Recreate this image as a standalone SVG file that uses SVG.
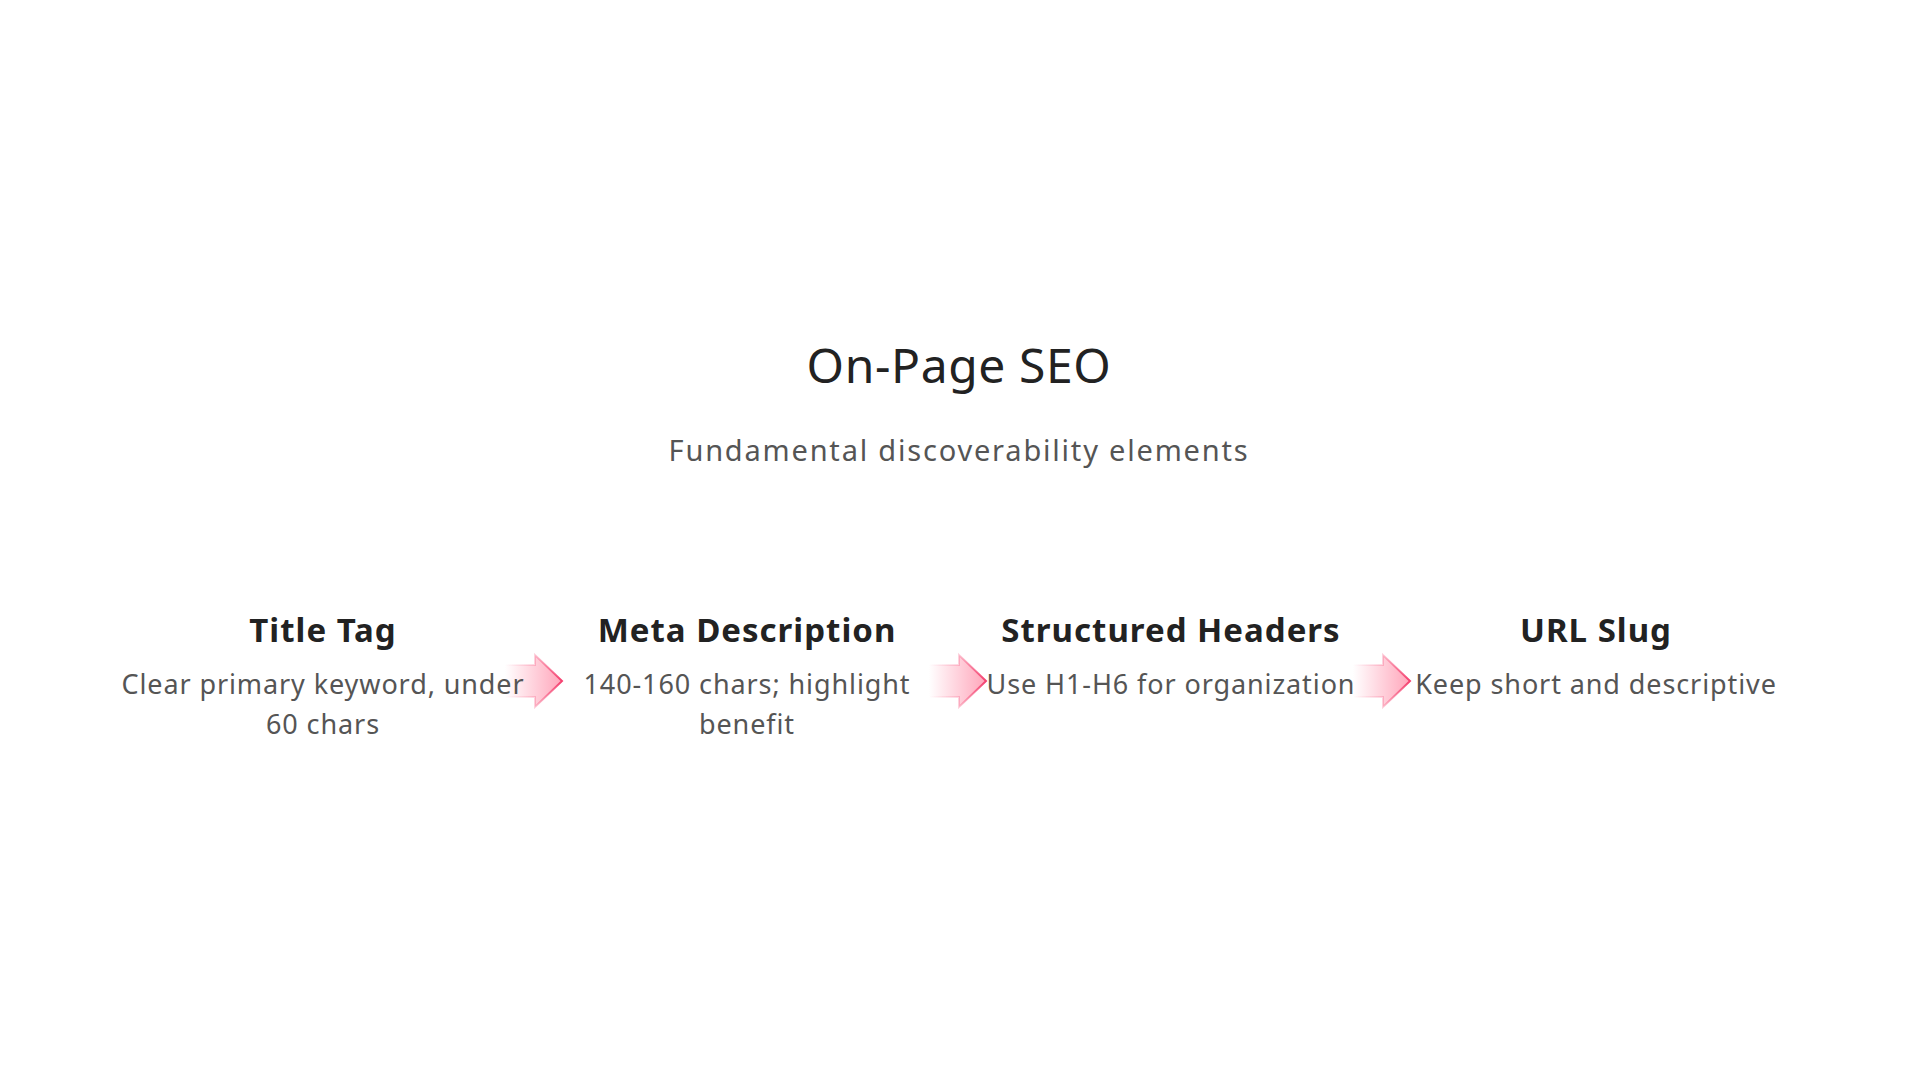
<svg xmlns="http://www.w3.org/2000/svg" width="1920" height="1080" viewBox="0 0 1920 1080">
<defs>
<style>
.t{font-family:"Noto Sans","Open Sans",sans-serif;text-anchor:middle}
.h1{font-size:48px;fill:#222;letter-spacing:0.6px}
.sub{font-size:29px;fill:#555;letter-spacing:1.8px}
.nt{font-size:33px;font-weight:700;fill:#222;letter-spacing:1px}
.nd{font-size:27px;fill:#555;letter-spacing:0.9px}
.arr{fill:url(#ag);stroke:url(#sg);stroke-width:2}
</style>
<linearGradient id="ag" x1="0" y1="0" x2="1" y2="0">
<stop offset="0" stop-color="#ff5c82" stop-opacity="0"/>
<stop offset="1" stop-color="#ff5c82" stop-opacity="0.55"/>
</linearGradient>
<linearGradient id="sg" x1="0" y1="0" x2="1" y2="0">
<stop offset="0" stop-color="#f43f6e" stop-opacity="0"/>
<stop offset="0.5" stop-color="#f43f6e" stop-opacity="0.2"/>
<stop offset="1" stop-color="#f43f6e" stop-opacity="1"/>
</linearGradient>
<path id="arrow" d="M0,-16 H30 V-26 L57,0 L30,26 V16 H0 Z"/>
</defs>
<rect width="1920" height="1080" fill="#fff"/>
<g id="header">
<text class="t h1" x="959" y="383">On-Page SEO</text>
<text class="t sub" x="959" y="461">Fundamental discoverability elements</text>
</g>
<g id="connectors">
<use href="#arrow" class="arr" x="505" y="681"/>
<use href="#arrow" class="arr" x="929" y="681"/>
<use href="#arrow" class="arr" x="1353" y="681"/>
</g>
<g id="node-title-tag">
<text class="t nt" x="323" y="642">Title Tag</text>
<text class="t nd" x="323" y="694">Clear primary keyword, under</text>
<text class="t nd" x="323" y="734">60 chars</text>
</g>
<g id="node-meta-description">
<text class="t nt" x="747" y="642">Meta Description</text>
<text class="t nd" x="747" y="694">140-160 chars; highlight</text>
<text class="t nd" x="747" y="734">benefit</text>
</g>
<g id="node-structured-headers">
<text class="t nt" x="1171" y="642">Structured Headers</text>
<text class="t nd" x="1171" y="694">Use H1-H6 for organization</text>
</g>
<g id="node-url-slug">
<text class="t nt" x="1596" y="642">URL Slug</text>
<text class="t nd" x="1596" y="694">Keep short and descriptive</text>
</g>
</svg>
